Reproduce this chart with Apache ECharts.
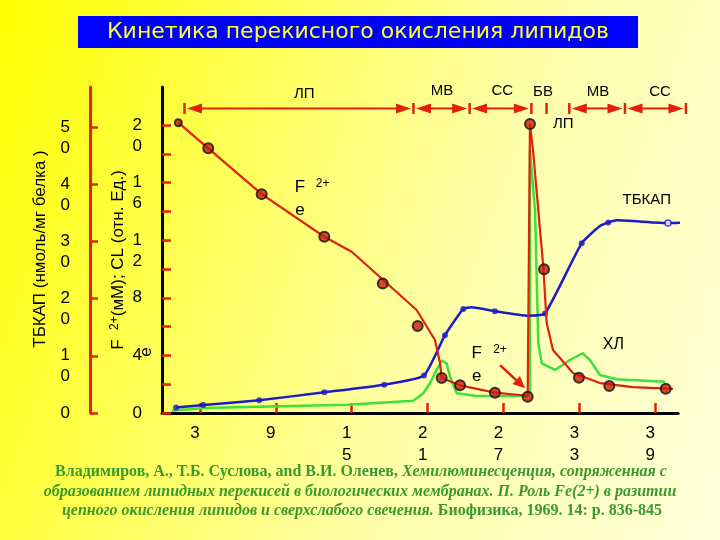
<!DOCTYPE html>
<html><head><meta charset="utf-8">
<script src="https://cdn.jsdelivr.net/npm/echarts@6/dist/echarts.min.js"></script>
<style>
html,body{margin:0;padding:0;}
#c{width:720px;height:540px;background:linear-gradient(110deg,#ffff00 0%,#ffff55 30%,#ffffa8 60%,#ffffdc 100%);}
</style>
</head><body><div id="c"></div>
<script>
// ---- tick values ----
const xTicks = [3, 9, 15, 21, 27, 33, 39];
const feTickMarks = [0, 2, 4, 6, 8, 10, 12, 14, 16, 18, 20];
const feTickLabels = [0, 4, 8, 12, 16, 20];
const tbTicks = [0, 10, 20, 30, 40, 50];

// ---- Fe2+ (mM) ----
const feDotsX = [1.29, 3.66, 7.88, 12.83, 17.45, 20.21, 22.11, 23.56, 26.32, 28.91, 29.09, 30.2, 32.96, 35.36, 39.82];
const feDotsY = [20.16, 18.38, 15.2, 12.24, 9.0, 6.04, 2.43, 1.92, 1.41, 1.13, 20.07, 9.98, 2.45, 1.88, 1.69];
const feLineX = [1.29, 3.66, 7.88, 12.83, 15.0, 20.13, 21.58, 21.98, 22.11, 23.56, 26.32, 28.91, 29.04, 29.09, 29.35, 30.14, 30.41, 30.91, 32.49, 34.62, 37.23, 40.4];
const feLineY = [20.16, 18.38, 15.2, 12.24, 11.2, 7.15, 5.07, 3.47, 2.43, 1.92, 1.41, 1.2, 1.13, 20.07, 18.06, 10.16, 6.25, 4.38, 2.78, 2.08, 1.8, 1.67];

// ---- CL (chemiluminescence, rel. units) ----
const clX = [0.77, 3.3, 14.7, 19.87, 20.66, 21.2, 21.72, 22.11, 22.5, 22.77, 23.3, 24.88, 28.83, 29.09, 29.09, 29.49, 29.75, 30.02, 31.07, 32.25, 33.26, 33.83, 34.62, 35.94, 39.76];
const clY = [0.16, 0.35, 0.57, 0.85, 1.37, 2.1, 3.0, 3.63, 3.45, 2.52, 1.37, 1.18, 1.18, 1.48, 18.26, 14.1, 4.84, 3.45, 2.99, 3.68, 4.15, 3.68, 2.64, 2.34, 2.17];

// ---- ТБКАП (nmol/mg protein) ----
const tbLineX = [1.11, 3.26, 7.69, 12.83, 17.57, 20.71, 22.37, 23.82, 24.48, 26.32, 28.96, 30.28, 33.18, 34.62, 35.28, 35.94, 40.0, 41.34];
const tbLineY = [0.96, 1.4, 2.22, 3.62, 4.95, 6.56, 13.6, 18.2, 18.5, 17.8, 17.0, 17.4, 29.7, 32.7, 33.3, 33.7, 33.2, 33.3];
const tbDotsX = [1.11, 3.26, 7.69, 12.83, 17.57, 20.71, 22.37, 23.82, 26.32, 30.28, 33.18, 35.28];
const tbDotsY = [0.96, 1.4, 2.22, 3.62, 4.95, 6.56, 13.6, 18.2, 17.8, 17.4, 29.7, 33.3];
const tbOpenX = [40.0];
const tbOpenY = [33.2];

// ---- phase annotations ----
const spanFrom = [1.78, 19.88, 24.32, 32.2, 36.6];
const spanTo = [19.88, 24.32, 29.2, 36.6, 41.42];
const barX = [1.78, 19.88, 24.32, 29.2, 30.4, 32.2, 36.6, 41.42];
const spanY = 21.15;
const phaseLabels = ['ЛП', 'МВ', 'СС', 'БВ', 'МВ', 'СС'];
const phaseLabelX = [11.25, 22.13, 26.9, 30.12, 34.47, 39.37];
const phaseLabelY = [22.15, 22.36, 22.36, 22.3, 22.3, 22.3];

// ---- text notes inside plot ----
const noteText = ['F', '2+', 'e', 'F', '2+', 'e', 'ТБКАП', 'ХЛ', 'ЛП'];
const noteX = [10.91, 12.7, 10.91, 24.88, 26.72, 24.88, 38.32, 35.68, 31.72];
const noteY = [15.69, 15.95, 14.1, 4.15, 4.42, 2.52, 14.79, 4.72, 20.05];
const noteSize = [17, 12, 17, 17, 12, 17, 15, 16, 15];
const feArrow = [26.72, 3.33, 28.7, 1.72];

const RED = '#e2200c';
const BLUE = '#1c1cc8';
const GREEN = '#3ee03e';
const SANS = '"Liberation Sans", Arial, sans-serif';
const SERIF = '"Liberation Serif", "Times New Roman", serif';
const CITE = '#3a9a2e';

const zip = (a, b) => a.map((v, i) => [v, b[i]]);
const stack = v => String(v).split('').join('\n');

const chart = echarts.init(document.getElementById('c'), null, {renderer: 'canvas'});

const yLabel = {
  formatter: stack, showMinLabel: true, showMaxLabel: true, hideOverlap: false,
  color: '#000', fontSize: 17, lineHeight: 21, margin: 20, fontFamily: SANS,
  verticalAlign: 'top', padding: [-10.5, 0, 10.5, 0]
};

const option = {
  backgroundColor: 'transparent',
  animation: false,
  grid: {left: 162, right: 41.9, top: 87, bottom: 127, containLabel: false},
  xAxis: {
    type: 'value', min: 0, max: 40.8,
    splitLine: {show: false},
    axisLine: {show: true, lineStyle: {color: '#000', width: 3}},
    axisTick: {show: true, inside: true, length: 10, customValues: xTicks, lineStyle: {color: RED, width: 2.5}},
    axisLabel: {customValues: xTicks, formatter: stack, showMinLabel: true, showMaxLabel: true,
      color: '#000', fontSize: 17, lineHeight: 22, margin: 9, fontFamily: SANS, padding: [0, 10, 0, 0]}
  },
  yAxis: [
    {
      type: 'value', position: 'left', offset: 0, min: 0, max: 22.64,
      splitLine: {show: false},
      axisLine: {show: true, onZero: false, lineStyle: {color: '#000', width: 3}},
      axisTick: {show: true, inside: true, length: 9, customValues: feTickMarks, lineStyle: {color: RED, width: 2.5}},
      axisLabel: Object.assign({customValues: feTickLabels}, yLabel)
    },
    {
      type: 'value', position: 'left', offset: 72, min: 0, max: 57,
      splitLine: {show: false},
      axisLine: {show: true, onZero: false, lineStyle: {color: RED, width: 3}},
      axisTick: {show: true, inside: true, length: 8, customValues: tbTicks, lineStyle: {color: RED, width: 2.5}},
      axisLabel: Object.assign({customValues: tbTicks}, yLabel)
    }
  ],
  series: [
    {type: 'line', name: 'CL', yAxisIndex: 0, data: zip(clX, clY), showSymbol: false, symbol: 'none',
      lineStyle: {color: GREEN, width: 2.5}, clip: false, z: 2},
    {type: 'line', name: 'ТБКАП', yAxisIndex: 1, data: zip(tbLineX, tbLineY), showSymbol: false, symbol: 'none', smooth: 0.15,
      lineStyle: {color: BLUE, width: 2.5}, clip: false, z: 3},
    {type: 'scatter', yAxisIndex: 1, data: zip(tbDotsX, tbDotsY), symbolSize: 6,
      itemStyle: {color: BLUE}, z: 4},
    {type: 'scatter', yAxisIndex: 1, data: zip(tbOpenX, tbOpenY), symbolSize: 6,
      itemStyle: {color: '#fff', borderColor: BLUE, borderWidth: 1.5}, z: 4},
    {type: 'line', name: 'Fe', yAxisIndex: 0, data: zip(feLineX, feLineY), showSymbol: false, symbol: 'none',
      lineStyle: {color: RED, width: 2.2}, clip: false, z: 5},
    {type: 'scatter', yAxisIndex: 0, data: zip(feDotsX, feDotsY), symbolSize: (v, p) => p.dataIndex === 0 ? 7 : 10,
      itemStyle: {color: '#c81c0c', borderColor: '#111', borderWidth: 2}, z: 6},
    // phase spans with double arrows
    {type: 'custom', yAxisIndex: 0, clip: false, z: 7, silent: true,
      data: zip(spanFrom, spanTo),
      renderItem: (params, api) => {
        const a = api.coord([api.value(0), spanY]);
        const b = api.coord([api.value(1), spanY]);
        const gap = 2.5, hl = 15, hw = 5;
        const x1 = a[0] + gap, x2 = b[0] - gap, y = a[1];
        return {type: 'group', children: [
          {type: 'line', shape: {x1: x1 + hl - 2, y1: y, x2: x2 - hl + 2, y2: y}, style: {stroke: RED, lineWidth: 2}},
          {type: 'polygon', shape: {points: [[x1, y], [x1 + hl, y - hw], [x1 + hl, y + hw]]}, style: {fill: RED}},
          {type: 'polygon', shape: {points: [[x2, y], [x2 - hl, y - hw], [x2 - hl, y + hw]]}, style: {fill: RED}}
        ]};
      }},
    {type: 'custom', yAxisIndex: 0, clip: false, z: 7, silent: true,
      data: barX.map(x => [x, spanY]),
      renderItem: (params, api) => {
        const p = api.coord([api.value(0), api.value(1)]);
        return {type: 'line', shape: {x1: p[0], y1: p[1] - 5.5, x2: p[0], y2: p[1] + 5.5}, style: {stroke: RED, lineWidth: 2.5}};
      }},
    {type: 'custom', yAxisIndex: 0, clip: false, z: 7, silent: true,
      data: phaseLabelX.map((x, i) => [x, phaseLabelY[i], i]),
      renderItem: (params, api) => {
        const p = api.coord([api.value(0), api.value(1)]);
        return {type: 'text', x: p[0], y: p[1], style: {text: phaseLabels[api.value(2)], fill: '#000',
          fontSize: 15, fontFamily: SANS, align: 'center', verticalAlign: 'middle'}};
      }},
    {type: 'custom', yAxisIndex: 0, clip: false, z: 7, silent: true,
      data: noteX.map((x, i) => [x, noteY[i], i]),
      renderItem: (params, api) => {
        const p = api.coord([api.value(0), api.value(1)]);
        const i = api.value(2);
        return {type: 'text', x: p[0], y: p[1], style: {text: noteText[i], fill: '#000',
          fontSize: noteSize[i], fontFamily: SANS, align: 'center', verticalAlign: 'middle'}};
      }},
    {type: 'custom', yAxisIndex: 0, clip: false, z: 7, silent: true,
      data: [feArrow],
      renderItem: (params, api) => {
        const a = api.coord([api.value(0), api.value(1)]);
        const b = api.coord([api.value(2), api.value(3)]);
        const dx = b[0] - a[0], dy = b[1] - a[1], L = Math.hypot(dx, dy);
        const ux = dx / L, uy = dy / L, hl = 12, hw = 5.5;
        const bx = b[0] - ux * hl, by = b[1] - uy * hl;
        return {type: 'group', children: [
          {type: 'line', shape: {x1: a[0], y1: a[1], x2: bx, y2: by}, style: {stroke: RED, lineWidth: 2.5}},
          {type: 'polygon', shape: {points: [[b[0], b[1]], [bx - uy * hw, by + ux * hw], [bx + uy * hw, by - ux * hw]]}, style: {fill: RED}}
        ]};
      }}
  ],
  graphic: [
    {type: 'rect', shape: {x: 78, y: 16, width: 560, height: 32}, style: {fill: '#0000ff'}, z: 10},
    {type: 'text', x: 358, y: 32, z: 11, style: {text: 'Кинетика перекисного окисления липидов', fill: '#ffff33',
      fontSize: 22, fontFamily: '"DejaVu Sans", sans-serif', align: 'center', verticalAlign: 'middle'}},
    {type: 'text', x: 40, y: 249, rotation: Math.PI / 2, z: 11, style: {text: 'ТБКАП (нмоль/мг белка )', fill: '#000',
      fontSize: 17, fontFamily: SANS, align: 'center', verticalAlign: 'middle'}},
    {type: 'text', x: 118, y: 260, rotation: Math.PI / 2, z: 11, style: {
      text: 'F  {s|2+}(мМ); CL (отн. Ед.)', fill: '#000', fontSize: 17, fontFamily: SANS, align: 'center', verticalAlign: 'middle',
      rich: {s: {fontSize: 12, fontFamily: SANS, verticalAlign: 'top', padding: [0, 0, 6, 0]}}}},
    {type: 'text', x: 146, y: 352, rotation: Math.PI / 2, z: 11, style: {text: 'е', fill: '#000',
      fontSize: 17, fontFamily: SANS, align: 'center', verticalAlign: 'middle'}},
    {type: 'text', x: 361, y: 472, z: 11, style: {
      text: '{b|Владимиров, А., Т.Б. Суслова, and В.И. Оленев, }{i|Хемилюминесценция, сопряженная с}',
      align: 'center', verticalAlign: 'middle',
      rich: {b: {fontFamily: SERIF, fontWeight: 'bold', fontSize: 16, fill: CITE},
             i: {fontFamily: SERIF, fontWeight: 'bold', fontStyle: 'italic', fontSize: 16, fill: CITE}}}},
    {type: 'text', x: 360, y: 492, z: 11, style: {
      text: '{i|образованием липидных перекисей в биологических мембранах. П. Роль Fe(2+) в разитии}',
      align: 'center', verticalAlign: 'middle',
      rich: {i: {fontFamily: SERIF, fontWeight: 'bold', fontStyle: 'italic', fontSize: 16, fill: CITE}}}},
    {type: 'text', x: 362, y: 511, z: 11, style: {
      text: '{i|цепного окисления липидов и сверхслабого свечения.}{b| Биофизика, 1969. 14: p. 836-845}',
      align: 'center', verticalAlign: 'middle',
      rich: {b: {fontFamily: SERIF, fontWeight: 'bold', fontSize: 16, fill: CITE},
             i: {fontFamily: SERIF, fontWeight: 'bold', fontStyle: 'italic', fontSize: 16, fill: CITE}}}}
  ]
};
chart.setOption(option);
</script>
</body></html>
